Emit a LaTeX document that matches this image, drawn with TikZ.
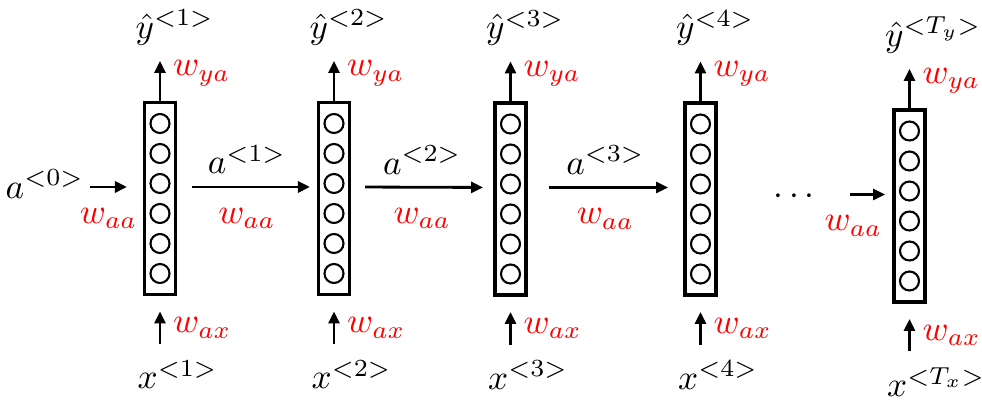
\documentclass[tikz,border=0pt]{standalone}
\usepackage{amsmath}
\usetikzlibrary{arrows.meta}

\begin{document}
\begin{tikzpicture}[x=0.01cm,y=-0.01cm,
  cell/.style={draw,line width=1.1pt,minimum width=0.31cm,minimum height=1.92cm,inner sep=0pt},
  unit/.style={draw,circle,line width=0.6pt,minimum size=0.19cm,inner sep=0pt},
  link/.style={-{Triangle[length=0.12cm,width=0.11cm]},line width=0.8pt},
  lbl/.style={inner sep=0pt,anchor=west},
  wt/.style={text=red}]
  \useasboundingbox (0,0) rectangle (982,401);
  % cells, units, outputs and inputs
  \foreach \i/\x/\y/\t/\s in {1/160/198.5/1/1,2/334/198.5/2/2,3/510.5/199/3/3,4/700.5/199/4/4,5/909.5/206/T_y/T_x} {
    \node[cell] (c\i) at (\x,\y) {};
    \foreach \k in {0,...,5}
      \node[unit] (c\i u\k) at (\x,{\y-75+30*\k}) {};
    \coordinate (in\i) at ([yshift=0.115cm]c\i.west);
    \coordinate (out\i) at ([yshift=0.115cm]c\i.east);
    \node[lbl] (yh\i) at ({\x-25},{\y-171}) {$\hat{y}^{<\t>}$};
    \node[lbl] (xi\i) at ({\x-23},{\y+176}) {$x^{<\s>}$};
    \draw[link,shorten >=0.15cm] (c\i.north) -- (c\i.north |- yh\i.south)
      node[midway,right,wt] {$w_{ya}$};
    \draw[link,shorten <=0.15cm,shorten >=0.15cm] (c\i.south |- xi\i.north) -- (c\i.south)
      node[midway,right,wt] {$w_{ax}$};
  }
  % recurrent links
  \node[lbl] (a0) at (5,184) {$a^{<0>}$};
  \draw[link,shorten <=0.05cm,shorten >=0.156cm] (a0.east |- in1) -- (in1)
    node[midway,below=0.08cm,xshift=-0.05cm,wt] {$w_{aa}$};
  \foreach \i/\j/\s/\e in {1/2/0.146/0.066,2/3/0.136/0.10,3/4/0.21/0.15}
    \draw[link,shorten <=\s cm,shorten >=\e cm] (out\i) -- (in\j)
      node[midway,above] {$a^{<\i>}$}
      node[midway,below=0.08cm,wt] {$w_{aa}$};
  \node (dots) at (797,196.5) {$\cdots$};
  \draw[link,shorten <=0.17cm,shorten >=0.07cm] (dots.east |- in5) -- (in5)
    node[midway,below=0.08cm,xshift=-0.09cm,wt] {$w_{aa}$};
\end{tikzpicture}
\end{document}
